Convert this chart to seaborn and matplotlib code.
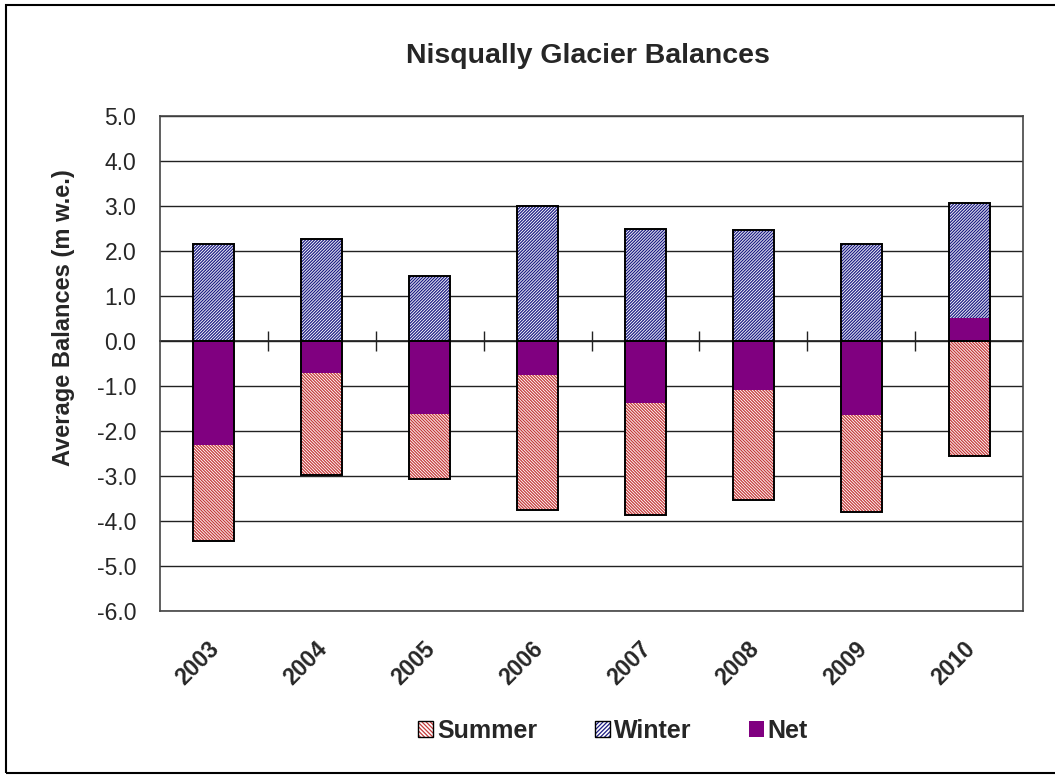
import matplotlib
matplotlib.use("Agg")
import matplotlib.pyplot as plt
import matplotlib.patches as mpatches
import matplotlib.transforms as mtransforms
from matplotlib.legend_handler import HandlerTuple
import numpy as np
import pandas as pd
import seaborn as sns

# Nisqually Glacier mass balances (m w.e.)
years = ["2003", "2004", "2005", "2006", "2007", "2008", "2009", "2010"]
summer = [-4.45, -2.97, -3.07, -3.75, -3.86, -3.54, -3.79, -2.55]
winter = [2.15, 2.27, 1.45, 3.00, 2.48, 2.46, 2.15, 3.06]
net = [-2.30, -0.70, -1.62, -0.75, -1.38, -1.08, -1.64, 0.51]

df = pd.DataFrame({"Year": years, "Summer": summer, "Winter": winter, "Net": net})

sns.set_theme(style="white")
plt.rcParams["font.family"] = ["Liberation Sans", "DejaVu Sans"]
plt.rcParams["hatch.linewidth"] = 0.9

SUMMER_HATCH = "#c53a3a"
WINTER_HATCH = "#1c1c84"
NET_COLOR = "#800080"
BAR_W = 0.38
HATCH_S = "\\" * 11
HATCH_W = "/" * 11

fig = plt.figure(figsize=(10.55, 7.75), dpi=100)
ax = fig.add_axes([160 / 1055, 1 - 611 / 775, (1023 - 160) / 1055, (611 - 116) / 775])
ax.set_axisbelow(True)


def hatched(col, hatch, hcolor):
    n0 = len(ax.patches)
    sns.barplot(data=df, x="Year", y=col, color="white", width=BAR_W,
                ax=ax, errorbar=None, saturation=1, zorder=2)
    for p in ax.patches[n0:]:
        p.set_hatch(hatch)
        p.set_edgecolor(hcolor)
        p.set_linewidth(0)
        p.set_facecolor("white")


def outline(col):
    sns.barplot(data=df, x="Year", y=col, fill=False, color="black",
                width=BAR_W, ax=ax, errorbar=None, linewidth=1.4, zorder=4)


hatched("Summer", HATCH_S, SUMMER_HATCH)
hatched("Winter", HATCH_W, WINTER_HATCH)
sns.barplot(data=df, x="Year", y="Net", color=NET_COLOR, width=BAR_W, ax=ax,
            errorbar=None, saturation=1, linewidth=0, zorder=3)
outline("Summer")
outline("Winter")

# Axes styling
ax.set_ylim(-6, 5)
ax.set_xlim(-0.5, len(years) - 0.5)
yt = np.arange(-6, 5.1, 1.0)
ax.set_yticks(yt)
ax.set_yticklabels([f"{v:.1f}" for v in yt], fontsize=16.5)
ax.yaxis.grid(True, color="#222222", linewidth=1.0)
ax.tick_params(axis="y", direction="out", length=7, width=1, color="#444444", pad=10)
ax.tick_params(axis="x", length=0, pad=19)
shift = mtransforms.ScaledTranslation(-6 / 100, 0, fig.dpi_scale_trans)
for lbl in ax.get_xticklabels():
    lbl.set_rotation(45)
    lbl.set_ha("right")
    lbl.set_va("top")
    lbl.set_rotation_mode("anchor")
    lbl.set_fontweight("bold")
    lbl.set_fontsize(16.5)
    lbl.set_transform(lbl.get_transform() + shift)
for s in ax.spines.values():
    s.set_visible(True)
    s.set_color("#444444")
    s.set_linewidth(1.2)
ax.set_xlabel("")
ax.set_ylabel("Average Balances (m w.e.)", fontsize=17, fontweight="bold")
ax.yaxis.set_label_coords((75 - 160) / 863, (611 - 318) / 495)

# Category boundary ticks crossing the zero line
zero_frac = (0 - (-6)) / (5 - (-6))
sec = ax.secondary_xaxis(zero_frac)
sec.set_xticks(np.arange(0.5, len(years) - 1, 1.0))
sec.set_xticklabels([])
sec.tick_params(direction="inout", length=15, width=1, color="#222222")
sec.spines["bottom"].set_color("#222222")
sec.spines["bottom"].set_linewidth(1.0)

fig.text(588 / 1055, 1 - 56 / 775, "Nisqually Glacier Balances", ha="center",
         va="center", fontsize=20.5, fontweight="bold")

# Legend
h_sum = (mpatches.Patch(facecolor="white", edgecolor=SUMMER_HATCH, hatch="\\" * 8, linewidth=0),
         mpatches.Patch(facecolor="none", edgecolor="black", linewidth=1.0))
h_win = (mpatches.Patch(facecolor="white", edgecolor=WINTER_HATCH, hatch="/" * 8, linewidth=0),
         mpatches.Patch(facecolor="none", edgecolor="black", linewidth=1.0))
h_net = mpatches.Patch(facecolor=NET_COLOR, edgecolor=NET_COLOR, linewidth=0)
fig.legend([h_sum, h_win, h_net], ["Summer", "Winter", "Net"],
           handler_map={tuple: HandlerTuple(ndivide=1, pad=0)},
           loc="center", bbox_to_anchor=(613 / 1055, 1 - 731 / 775), ncol=3,
           frameon=False, handlelength=0.6, handleheight=0.6, handletextpad=0.15,
           columnspacing=2.3, prop={"size": 18, "weight": "bold"})

# Chart area border
fig.patches.append(mpatches.Rectangle((6 / 1055, 1 - 773 / 775), 1.2, (773 - 5) / 775,
                                      transform=fig.transFigure, fill=False,
                                      edgecolor="black", linewidth=1.5, zorder=10))

fig.savefig("out.png", dpi=100)
